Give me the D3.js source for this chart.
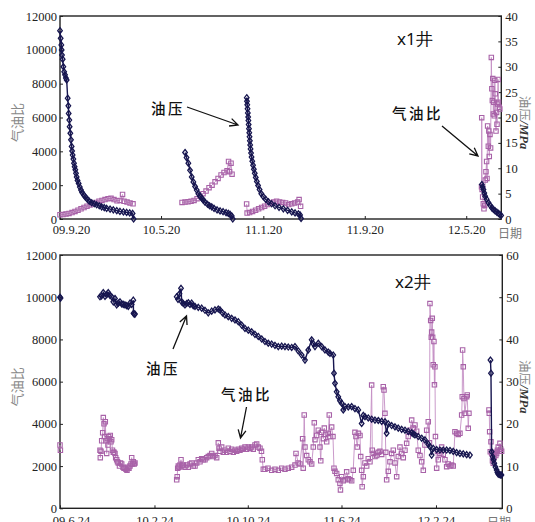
<!DOCTYPE html>
<html>
<head>
<meta charset="utf-8">
<script src="https://cdn.jsdelivr.net/npm/d3@7"></script>
<style>
  body { margin: 0; background: #fff; }
  .tick text { font-family: "Liberation Serif", "DejaVu Serif", serif; font-size: 12.5px; fill: #222; }
  .tick line { stroke: #222; stroke-width: 1; }
</style>
</head>
<body>
<div id="chart"></div>
<script>
// ---------------- DATA ----------------
// x1 well: days counted from 2009-09-20
const x1TickDates = ["2009-09-20", "2010-05-20", "2011-01-20", "2011-09-20", "2012-05-20"];
const x1TickLabels = ["09.9.20", "10.5.20", "11.1.20", "11.9.20", "12.5.20"];

// 油压 (MPa), [day, value], one array per production period
const x1Pres1 = [[0,37.1],[1.6,35.6],[3.2,34.3],[4,33.3],[4.8,32.3],[6.4,31.5],[8,30.0],[10,29.0],[12,28.4],[14,27.8],[16,27.4],[18.4,23.8],[20,22.3],[20.8,20.8],[22.3,19.5],[23.1,18.2],[24.7,16.9],[26.3,15.6],[27.9,14.3],[29,13.4],[30.3,12.6],[32,11.8],[33.5,11.0],[35,10.3],[36.7,9.7],[38.3,9.0],[39.9,8.3],[42,7.6],[44.7,7.0],[47.5,6.3],[50.3,5.7],[53,5.2],[57.5,4.7],[61,4.3],[65.4,3.9],[70,3.5],[75.8,3.2],[82,3.0],[87.8,2.8],[94,2.6],[99.8,2.4],[106,2.25],[111.7,2.1],[120,1.95],[127.7,1.8],[136,1.65],[143.6,1.5],[152,1.4],[159.6,1.3],[167,1.2],[173.9,1.1],[176.3,0]];
const x1Pres2 = [[299.5,13.1],[303.1,12.1],[307.4,11.0],[311.5,9.6],[315.5,8.3],[319.4,7.3],[323.5,6.4],[327.5,5.7],[331.4,5.0],[335.4,4.5],[339.5,4.1],[343.3,3.7],[347.4,3.3],[353.4,2.9],[358.2,2.6],[363.5,2.4],[369,2.1],[376.2,1.8],[383.4,1.6],[390.6,1.45],[397.8,1.25],[403.2,1.1],[407.4,0.9],[411.4,0.6],[413.8,0]];
const x1Pres3 = [[447.3,23.9],[447.8,23.2],[448.5,22.5],[449.2,21.7],[449.9,20.9],[450.7,20.1],[451.2,19.4],[451.9,18.6],[452.6,17.8],[453.3,17.0],[454,16.2],[454.8,15.4],[455.5,14.6],[456.4,13.8],[457.6,13.0],[458.8,12.2],[460.5,11.4],[462.4,10.6],[464.3,9.8],[466.5,9.0],[468.9,8.2],[471.5,7.4],[474.4,6.6],[478,5.8],[482.1,5.0],[487.1,4.4],[492.4,3.9],[499.1,3.4],[506.8,3.0],[515.1,2.6],[524.7,2.3],[535,2.0],[545.1,1.7],[555.1,1.4],[563,1.2],[571,1.0],[575,0.8],[577.4,0.1]];
const x1Pres4 = [[1010.4,6.8],[1012.3,6.3],[1014.2,5.8],[1016.3,5.1],[1018.3,4.5],[1021.8,3.9],[1026.2,3.2],[1030.2,2.7],[1034.4,2.2],[1038.1,1.9],[1042.3,1.6],[1046.3,1.35],[1050.2,1.1],[1053.5,0.9],[1056.6,0.7]];

// 气油比, [day, value]
const x1Gor1 = [[0,250],[7.2,260],[14.4,300],[21.6,330],[28.8,380],[35.9,450],[43.1,520],[50.3,600],[57.5,680],[64.7,760],[71.9,830],[79.1,900],[86.3,980],[93.4,1050],[100.6,1100],[107.8,1150],[115,1200],[122.2,1220],[129.4,1150],[136.6,1080],[143.8,1100],[149.8,1450],[153.3,1050],[160.5,1000],[167.7,950],[174.9,900]];
const x1Gor2 = [[292.3,980],[299.5,1000],[306.7,1020],[313.9,1050],[321.1,1100],[328.3,1200],[335.4,1350],[342.6,1500],[349.8,1650],[357,1850],[364.2,2000],[371.4,2200],[378.6,2400],[385.8,2600],[392.9,2750],[400.1,2850],[403.7,3400],[406.1,2800],[409.7,3300],[412.1,2650]];
const x1Gor3 = [[447,890],[448.2,350],[454.2,380],[461.3,450],[468.5,520],[475.7,600],[482.9,680],[490.1,760],[497.3,850],[504.5,950],[511.7,1000],[518.8,1050],[526,1000],[533.2,980],[540.4,950],[547.6,850],[554.8,900],[562,950],[569.2,1000],[572.7,1150],[576.3,750]];
const x1Gor4 = [[1009.6,1900],[1010.1,5990],[1011,1750],[1012.3,1300],[1013.9,900],[1015.5,600],[1017.1,800],[1018.7,2300],[1020.3,2800],[1021.8,3400],[1022.8,2400],[1024.2,5500],[1025.9,4300],[1027.1,5200],[1028.2,3700],[1029.9,5000],[1031.4,4200],[1033.1,9550],[1034.3,7700],[1035.5,7000],[1036.6,8300],[1037.8,6200],[1039,6900],[1040.2,6100],[1041.4,8200],[1042.6,7400],[1044.3,5200],[1045.7,6300],[1046.7,5600],[1048.1,6800],[1049.3,8250],[1050.5,6900],[1052.2,6600],[1053.4,6500]];

// x2 well: days counted from 2009-06-24
const x2TickDates = ["2009-06-24", "2010-02-24", "2010-10-24", "2011-06-24", "2012-02-24"];
const x2TickLabels = ["09.6.24", "10.2.24", "10.10.24", "11.6.24", "12.2.24"];

const x2Pres1 = [[0,50.0],[1.5,49.8]];
const x2Pres2 = [[103.7,50.1],[107.6,50.3],[112.3,51.1],[116.7,50.2],[121.1,50.6],[125.2,51.1],[129.7,50.4],[134.1,50.1],[138.2,48.9],[142.6,49.7],[147,48.2],[151.2,48.6],[155.6,48.9],[160,48.4],[164.1,48.3],[168.5,48.2],[173,48.0],[177.1,47.8],[181.5,48.6],[185.9,48.3],[190.1,49.3],[190.6,46.2],[192.4,46.0],[194.5,46.0]];
const x2Pres3 = [[302.6,50.1],[306,49.5],[309.9,50.8],[313.8,52.1],[315.6,48.9],[319.7,48.5],[324.1,48.2],[328.5,48.5],[332.7,48.7],[337.1,48.3],[341.5,48.6],[345.6,48.0],[350.1,47.8],[358.6,47.6],[367.4,47.4],[376,46.9],[384.5,46.3],[393.4,46.7],[401.9,47.0],[410.5,47.2],[414.9,47.0],[421.4,46.3],[427.8,45.8],[436.4,45.4],[445.2,45.0],[453.8,44.6],[462.3,44.2],[471.2,43.4],[479.7,42.6],[488.3,42.2],[497.1,41.8],[505.6,41.2],[514.2,40.7],[523,40.1],[531.6,39.5],[540.1,39.1],[548.9,38.9],[557.5,38.6],[566.1,38.3],[574.9,38.4],[583.4,38.3],[592,38.2],[600.8,38.1],[609.4,38.3],[617.9,37.3],[626.7,36.3],[635.3,35.1],[643.8,37.5],[652.7,39.9],[656.8,39.0],[661.2,38.3],[669.8,39.1],[678.6,38.3],[687.1,37.5],[695.7,37.0],[700.1,36.7],[708.7,36.3],[710.5,32.0],[713.1,29.6],[717.5,27.6],[721.6,26.4],[726,25.5],[730.4,24.9],[734.6,23.3],[739,24.1],[747.6,24.0],[756.4,24.1],[764.9,23.6],[773.5,23.3],[782.3,20.1],[786.5,22.0],[790.9,21.7],[799.4,21.4],[808.2,21.1],[816.8,20.9],[825.4,20.8],[834.2,20.6],[842.7,20.5],[847.1,17.8],[851.3,20.0],[860.1,19.6],[868.7,19.3],[877.2,19.0],[886,18.7],[894.6,18.5],[903.1,18.2],[912,17.9],[916.1,17.6],[920.5,17.4],[929.1,17.0],[937.9,16.6],[946.4,16.2],[955,15.2],[959.4,14.6],[963.8,12.6],[967.9,14.2],[976.8,13.9],[985.3,13.8],[993.9,13.8],[1002.7,13.8],[1011.3,13.7],[1019.8,13.5],[1028.6,13.2],[1037.2,13.0],[1045.8,12.9],[1054.6,12.7],[1063.1,12.6]];
const x2Pres4 = [[1116.3,35.1],[1117.6,32.0],[1119.4,13.4],[1122,12.2],[1124.1,11.5],[1126.2,10.7],[1129.2,9.8],[1132.3,9.1],[1134.4,8.5],[1136.5,8.1],[1139.6,8.0],[1142.2,7.9],[1144.8,7.9]];

const x2Gor1 = [[0,3000],[1,2750]];
const x2Gor2 = [[103.7,2750],[104.5,2400],[106.3,2700],[108.1,3200],[110.7,3580],[112.3,4300],[114.1,4000],[115.9,3400],[117.5,4100],[119.3,3200],[121.1,2600],[122.6,3300],[124.5,3000],[126.3,3400],[128.4,3300],[130.4,3450],[132.2,3150],[134.1,3250],[136.1,2750],[138.2,2650],[140,2650],[142.6,2600],[144.4,2400],[147,2300],[149.1,2200],[151.2,2150],[154.3,2000],[156.9,2150],[160,2100],[163.4,1950],[166,1900],[168.5,1900],[171.1,1850],[173.7,1800],[176.3,1950],[178.9,1900],[181.5,2000],[184.1,2100],[185.9,2400],[188,2100],[190.1,2200],[192.4,2100],[194.5,2150]];
const x2Gor3 = [[302.6,1350],[303.9,1500],[305.2,1900],[306.8,2000],[308.6,1950],[311.2,2050],[313.8,2300],[315.6,2000],[319.7,2050],[324.1,1950],[328.5,2050],[332.7,1950],[337.1,2100],[341.5,2150],[345.6,2000],[350.1,2000],[354.5,2150],[358.6,2300],[363,2200],[367.4,2350],[371.6,2300],[376,2300],[380.4,2400],[384.5,2450],[388.9,2500],[393.4,2600],[397.5,2450],[401.9,2500],[406.3,2400],[410.5,3100],[412.3,2850],[414.9,2700],[419.3,2900],[423.4,2650],[427.8,2750],[432.2,2650],[436.4,2850],[440.8,2700],[445.2,2800],[449.3,2650],[453.8,2750],[458.2,2700],[462.3,2800],[466.7,2750],[471.2,2850],[475.3,2800],[479.7,2900],[484.1,2800],[488.3,2900],[492.7,2850],[497.1,2900],[501.2,2800],[505.6,3000],[510,3050],[514.2,2900],[518.6,2850],[522.5,2700],[524.6,2300],[527.2,1850],[531.6,1850],[539.4,1900],[549,1800],[557.5,1850],[566.1,1800],[574.9,1900],[583.4,1850],[592,1900],[600.8,1950],[609.4,2050],[612,2600],[617.9,2150],[622.2,2100],[629.2,3300],[630.7,1900],[633.3,4420],[635.3,2900],[639.7,2500],[643.8,2300],[648.3,2200],[652.7,2100],[656.8,2900],[659.4,4050],[661.2,3250],[665.6,3450],[669.8,3700],[674.2,2900],[676.2,2250],[678.6,3600],[682.8,3300],[685.4,3800],[688.5,3500],[691.6,3150],[695.7,3550],[698.3,4420],[700.1,3400],[704.5,3850],[707.9,3400],[710.5,1900],[713.1,1750],[717.5,1650],[721.6,1350],[726,1180],[727.3,870],[730.4,1500],[734.6,1300],[739,1350],[743.4,1730],[747.6,1400],[752,1350],[756.4,1300],[760.5,1800],[764.9,3600],[767.5,3400],[770.8,2900],[774,3550],[778,3450],[779.8,2450],[782.3,1800],[783.6,1020],[786.5,1500],[790.9,2150],[795.3,2000],[799.4,2350],[803.8,2200],[808.2,5840],[809.8,2750],[812.4,2600],[816.8,2450],[821.2,2500],[825.4,2650],[829.8,2700],[834.2,2550],[838.3,5760],[840.2,5600],[842.7,4500],[844.8,2650],[847.1,1350],[851.3,1750],[855.7,2200],[860.1,2600],[864.3,2750],[868.7,2150],[873.1,1500],[877.2,2450],[881.6,2900],[886,2600],[890.2,2400],[894.6,2750],[899,3080],[903.1,3400],[907.6,3700],[912,4180],[916.1,3800],[920.5,3950],[924.9,3650],[929.1,2750],[933.5,2500],[937.9,2200],[942.1,1800],[946.4,3000],[950.9,3700],[955,4100],[958.2,3100],[959.4,9700],[961.3,8900],[962.8,8100],[963.8,8350],[965.4,9000],[966.4,8100],[967.9,6800],[969.7,7900],[971,5850],[972.3,6700],[973.6,3400],[976.8,1900],[978.8,2700],[980.9,2300],[985.3,2600],[989.7,2900],[993.9,2550],[998.3,2300],[1002.7,1970],[1006.8,2100],[1011.3,2000],[1015.7,2050],[1019.8,2000],[1024.2,3630],[1028.6,3550],[1032.7,3500],[1037.2,3550],[1041.6,4420],[1043.1,5290],[1044.1,7500],[1045.8,6700],[1047.5,5200],[1050.1,4500],[1054.6,5290],[1056.1,5370],[1058.7,3790],[1060.5,4500]];
const x2Gor4 = [[1112.4,4660],[1113.2,4500],[1114.2,3630],[1115.8,2680],[1117.6,3150],[1119.4,2600],[1121.5,2250],[1123.6,2130],[1125.9,2400],[1128,2650],[1130.1,2500],[1132.3,2600],[1134.4,2750],[1136.5,2900],[1138.9,2700],[1140.9,3080],[1143,2800],[1145.3,2700]];

const gorTicks = [0, 2000, 4000, 6000, 8000, 10000, 12000];

// ---------------- LAYOUT ----------------
const W = 535, H = 522;
const PRES_COLOR = "#16154f", GOR_COLOR = "#a862a8", GOR_LINE = "#c48fc4";
const parse = d3.timeParse("%Y-%m-%d");

const svg = d3.select("#chart").append("svg")
  .attr("width", W).attr("height", H)
  .style("font-family", "'Noto Sans CJK SC', sans-serif");
svg.append("rect").attr("width", W).attr("height", H).attr("fill", "#fff");

const panels = [
  { left: 60, right: 501.3, top: 16, bottom: 219, start: "2009-09-20", end: "2012-08-12",
    ticks: x1TickDates, labels: x1TickLabels, rMax: 40, rStep: 5, xPad: 6,
    pres: [x1Pres1, x1Pres2, x1Pres3, x1Pres4], gor: [x1Gor1, x1Gor2, x1Gor3, x1Gor4] },
  { left: 60, right: 502.3, top: 255, bottom: 508.3, start: "2009-06-24", end: "2012-08-14",
    ticks: x2TickDates, labels: x2TickLabels, rMax: 60, rStep: 10, xPad: 8,
    pres: [x2Pres1, x2Pres2, x2Pres3, x2Pres4], gor: [x2Gor1, x2Gor2, x2Gor3, x2Gor4] }
];

const diamond = "M0,-3L2.3,0L0,3L-2.3,0Z";
const square = "M-2.2,-2.2H2.2V2.2H-2.2Z";

function drawPanel(p) {
  const t0 = parse(p.start);
  const x = d3.scaleTime().domain([t0, parse(p.end)]).range([p.left, p.right]);
  const yL = d3.scaleLinear().domain([0, 12000]).range([p.bottom, p.top]);
  const yR = d3.scaleLinear().domain([0, p.rMax]).range([p.bottom, p.top]);
  const dayX = d => x(new Date(t0.getTime() + d * 864e5));

  // axes
  const gx = svg.append("g").attr("transform", `translate(0,${p.bottom})`)
    .call(d3.axisBottom(x).tickValues(p.ticks.map(parse)).tickSize(-3).tickPadding(p.xPad)
      .tickFormat((d, i) => p.labels[i]));
  gx.select(".domain").remove();
  gx.selectAll(".tick text").filter((d, i) => i === 0).attr("dx", 11);

  const gl = svg.append("g").attr("transform", `translate(${p.left},0)`)
    .call(d3.axisLeft(yL).tickValues(gorTicks).tickSize(-3).tickPadding(3).tickFormat(d3.format("d")));
  gl.select(".domain").remove();

  const gr = svg.append("g").attr("transform", `translate(${p.right},0)`)
    .call(d3.axisRight(yR).tickValues(d3.range(0, p.rMax + 1, p.rStep)).tickSize(-3).tickPadding(4)
      .tickFormat(d3.format("d")));
  gr.select(".domain").remove();

  svg.append("rect")
    .attr("x", p.left).attr("y", p.top)
    .attr("width", p.right - p.left).attr("height", p.bottom - p.top)
    .attr("fill", "none").attr("stroke", "#222").attr("stroke-width", 1.4);

  // gas-oil ratio (left axis)
  const gorLine = d3.line().x(d => dayX(d[0])).y(d => yL(d[1]));
  p.gor.forEach(seg => {
    svg.append("path").attr("d", gorLine(seg))
      .attr("fill", "none").attr("stroke", GOR_LINE).attr("stroke-width", 0.9);
    svg.append("g").selectAll("path").data(seg).join("path")
      .attr("d", square)
      .attr("transform", d => `translate(${dayX(d[0])},${yL(d[1])})`)
      .attr("fill", "none").attr("stroke", GOR_COLOR).attr("stroke-width", 1.1);
  });

  // oil pressure (right axis)
  const presLine = d3.line().x(d => dayX(d[0])).y(d => yR(d[1]));
  p.pres.forEach(seg => {
    svg.append("path").attr("d", presLine(seg))
      .attr("fill", "none").attr("stroke", PRES_COLOR).attr("stroke-width", 1.4);
    svg.append("g").selectAll("path").data(seg).join("path")
      .attr("d", diamond)
      .attr("transform", d => `translate(${dayX(d[0])},${yR(d[1])})`)
      .attr("fill", "none").attr("stroke", PRES_COLOR).attr("stroke-width", 1.3);
  });

  // axis titles
  svg.append("text")
    .attr("transform", `translate(22,${(p.top + p.bottom) / 2 + 5}) rotate(-90)`)
    .attr("text-anchor", "middle").attr("font-size", 13).attr("fill", "#888")
    .text("气油比");
  const rt = svg.append("text")
    .attr("transform", `translate(520,${(p.top + p.bottom) / 2 + 5}) rotate(90)`)
    .attr("text-anchor", "middle").attr("font-size", 12.5);
  rt.append("tspan").attr("fill", "#888").text("油压");
  rt.append("tspan").attr("fill", "#333").attr("font-family", "'Liberation Serif', serif")
    .attr("font-style", "italic").attr("font-weight", "bold").text("/MPa");
}

panels.forEach(drawPanel);

// 日期 labels
svg.append("text").attr("x", 510).attr("y", 238).attr("text-anchor", "middle")
  .attr("font-size", 12).attr("fill", "#777").text("日期");
svg.append("text").attr("x", 499).attr("y", 527).attr("text-anchor", "middle")
  .attr("font-size", 12).attr("fill", "#777").text("日期");

// well names
svg.append("text").attr("x", 397).attr("y", 45).attr("font-size", 17).attr("fill", "#111")
  .attr("font-family", "'Noto Sans', sans-serif").text("x1井");
svg.append("text").attr("x", 395).attr("y", 288).attr("font-size", 17).attr("fill", "#111")
  .attr("font-family", "'Noto Sans', sans-serif").text("x2井");

// annotations with arrows
function arrow(x1, y1, x2, y2) {
  const a = Math.atan2(y2 - y1, x2 - x1), L = 9, s = 0.45;
  svg.append("path")
    .attr("d", `M${x1},${y1}L${x2},${y2}M${x2 - L * Math.cos(a - s)},${y2 - L * Math.sin(a - s)}L${x2},${y2}L${x2 - L * Math.cos(a + s)},${y2 - L * Math.sin(a + s)}`)
    .attr("fill", "none").attr("stroke", "#111").attr("stroke-width", 1.3);
}
function note(txt, xx, yy) {
  svg.append("text").attr("x", xx).attr("y", yy).attr("font-size", 14.5)
    .attr("font-weight", 500).attr("letter-spacing", 2.5).attr("fill", "#111").text(txt);
}
note("油压", 151, 114);
arrow(187, 107, 238, 125);
note("气油比", 392, 119);
arrow(442, 126, 478, 156);
note("油压", 146, 374);
arrow(173, 349, 186.5, 316);
note("气油比", 221, 400);
arrow(246.5, 407, 240.5, 438);
</script>
</body>
</html>
